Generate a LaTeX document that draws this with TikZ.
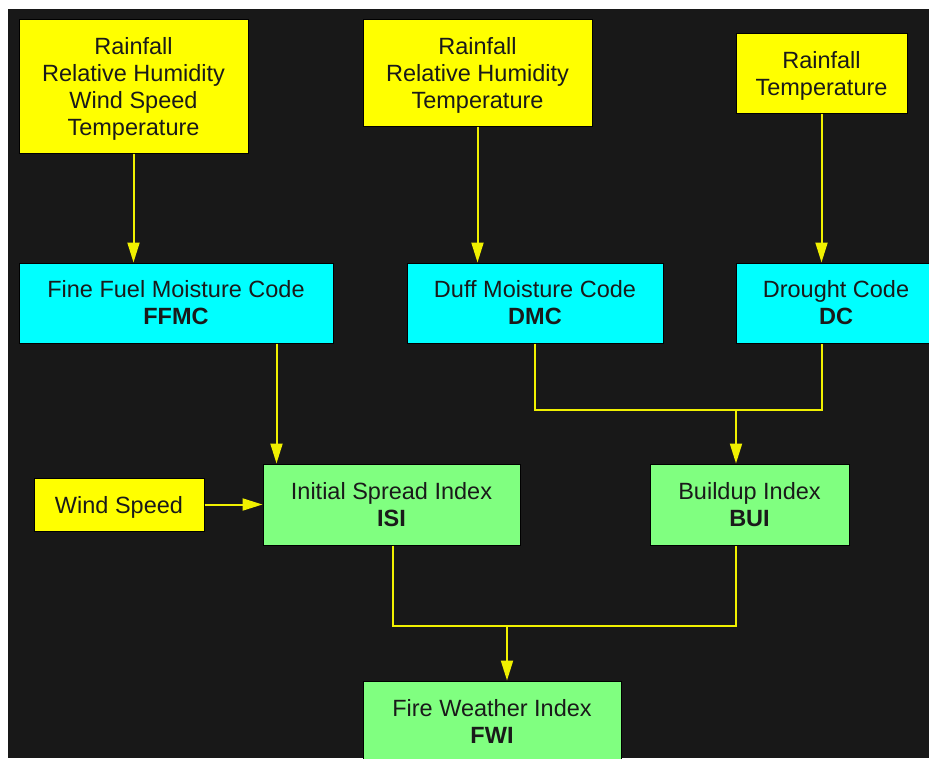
\documentclass[tikz,border=0pt]{standalone}
\usepackage{fontspec}
\setmainfont{Liberation Sans}
\usetikzlibrary{arrows.meta,calc}
\definecolor{bg}{HTML}{181818}
\definecolor{fy}{HTML}{FFFF00}
\definecolor{fc}{HTML}{00FFFF}
\definecolor{fg}{HTML}{80FF80}
\definecolor{wirec}{HTML}{F0F000}
\definecolor{txt}{HTML}{1A1A1A}
\newcommand{\topgap}{\rule{0pt}{23pt}}
\tikzset{
  box/.style={draw=black, line width=1pt, inner sep=0pt, align=center,
    font=\fontsize{23.5}{27}\selectfont, text=txt},
  inbox/.style={box, fill=fy},
  codebox/.style={box, fill=fc},
  idxbox/.style={box, fill=fg},
  wire/.style={draw=wirec, line width=2pt},
  arr/.style={wire, -{Triangle[length=20pt,width=12pt]}, fill=wirec}
}
\begin{document}
\begin{tikzpicture}[x=1pt,y=-1pt]
\useasboundingbox (0,0) rectangle (929,758);
\clip (0,0) rectangle (929,758);
\fill[bg] (8,9) rectangle (929,758);

\node[inbox, minimum width=229pt, minimum height=134pt] (y1) at (133.5,86)
  {\topgap Rainfall\\Relative Humidity\\Wind Speed\\Temperature};
\node[inbox, minimum width=229pt, minimum height=107pt] (y2) at (477.5,72.5)
  {\topgap Rainfall\\Relative Humidity\\Temperature};
\node[inbox, minimum width=171pt, minimum height=80pt] (y3) at (821.5,73)
  {\topgap Rainfall\\Temperature};

\node[codebox, minimum width=314pt, minimum height=80pt] (ffmc) at (176,303)
  {Fine Fuel Moisture Code\\\textbf{FFMC}};
\node[codebox, minimum width=256pt, minimum height=80pt] (dmc) at (535,303)
  {Duff Moisture Code\\\textbf{DMC}};
\node[codebox, minimum width=200pt, minimum height=80pt] (dc) at (836,303)
  {Drought Code\\\textbf{DC}};

\node[inbox, minimum width=170pt, minimum height=53pt] (wind) at (119,504.5)
  {\topgap Wind Speed};
\node[idxbox, minimum width=257pt, minimum height=81pt] (isi) at (391.5,504.5)
  {Initial Spread Index\\\textbf{ISI}};
\node[idxbox, minimum width=199pt, minimum height=81pt] (bui) at (749.5,504.5)
  {Buildup Index\\\textbf{BUI}};
\node[idxbox, minimum width=258pt, minimum height=80pt] (fwi) at (492,721)
  {Fire Weather Index\\\textbf{FWI}};

% inputs to codes
\draw[arr] (y1.south) -- (y1.south |- ffmc.north);
\draw[arr] (y2.south) -- (y2.south |- dmc.north);
\draw[arr] (y3.south) -- (y3.south |- dc.north);

% FFMC -> ISI
\coordinate (isiin) at ([xshift=14pt]isi.north west);
\draw[arr] (isiin |- ffmc.south) -- (isiin);

% Wind -> ISI
\draw[arr] (wind.east) -- (isi.west);

% DMC, DC -> BUI
\coordinate (dcout) at (y3.south |- dc.south);
\coordinate (buijoin) at (736,410);
\draw[wire] (dmc.south) |- (buijoin) -| (dcout);
\draw[arr] (buijoin) -- (buijoin |- bui.north);

% ISI, BUI -> FWI
\coordinate (isiout) at (393,545);
\coordinate (fwijoin) at (507,626);
\draw[wire] (isiout |- isi.south) |- (fwijoin) -| (buijoin |- bui.south);
\draw[arr] (fwijoin) -- (fwijoin |- fwi.north);
\end{tikzpicture}
\end{document}
